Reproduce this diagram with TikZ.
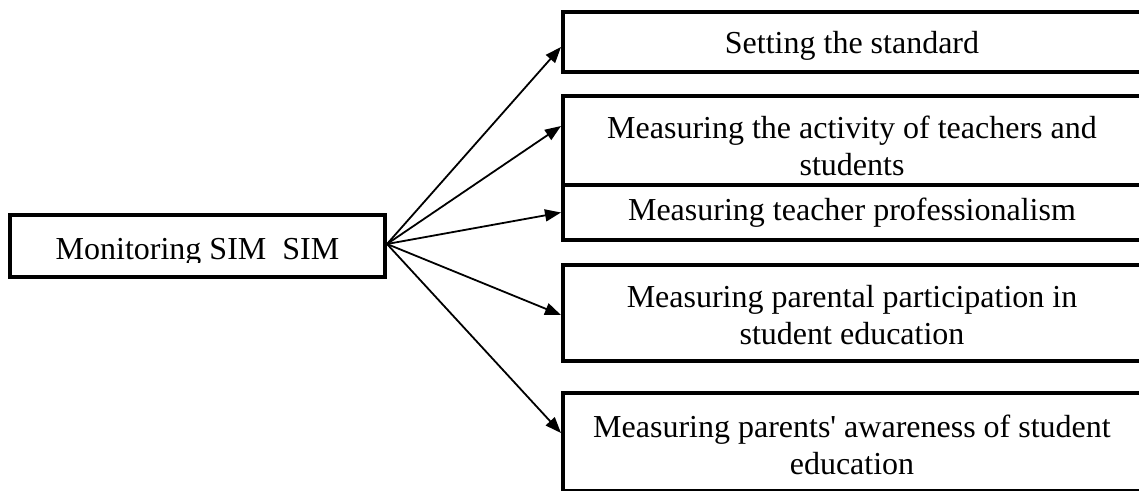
\documentclass[tikz,border=0pt]{standalone}
\usepackage{fontspec}
\setmainfont{Liberation Serif}
\usepackage{tikz}
\usetikzlibrary{arrows.meta}

\begin{document}
\begin{tikzpicture}[x=1pt,y=-1pt,>={Triangle[length=16pt,width=12pt]},line width=1.8pt,
  every node/.style={font=\fontsize{32}{37}\selectfont},
  every label/.style={align=center},
  main node/.style={draw,line width=4pt,inner sep=0pt,minimum width=375pt,minimum height=62pt},
  sub node/.style={draw,line width=4pt,inner sep=0pt,minimum width=578pt}]

  \useasboundingbox (0,0) rectangle (1139,490);
  \clip (0,0) rectangle (1139,490);

  \node[main node] (mon) at (197.5,246) {};
  \begin{scope}
    \clip (10,215) rectangle (385,262);
    \node[anchor=base] (montext) at (197.5,259) {Monitoring SIM\ \ SIM};
  \end{scope}

  \node[sub node,minimum height=60pt,label={[yshift=-3.5pt]center:{Setting the standard}}] (std) at (852,42) {};
  \node[sub node,minimum height=89pt,label={[yshift=-5.5pt]center:{Measuring the activity of teachers and\\students}}] (act) at (852,140.5) {};
  \node[sub node,minimum height=55pt,label={center:{Measuring teacher professionalism}}] (prof) at (852,212.5) {};
  \node[sub node,minimum height=96pt,label={[yshift=-2pt]center:{Measuring parental participation in\\student education}}] (part) at (852,313) {};
  \node[sub node,minimum height=98pt,label={[yshift=-3.5pt]center:{Measuring parents\textquotesingle{} awareness of student\\education}}] (aware) at (852,441.5) {};

  \path[->]
    ([yshift=2pt]mon.east) edge ([yshift=-5pt]std.west)
                           edge ([yshift=14.5pt]act.west)
                           edge (prof.west)
                           edge ([yshift=-2pt]part.west)
                           edge ([yshift=8.5pt]aware.west);

\end{tikzpicture}
\end{document}
